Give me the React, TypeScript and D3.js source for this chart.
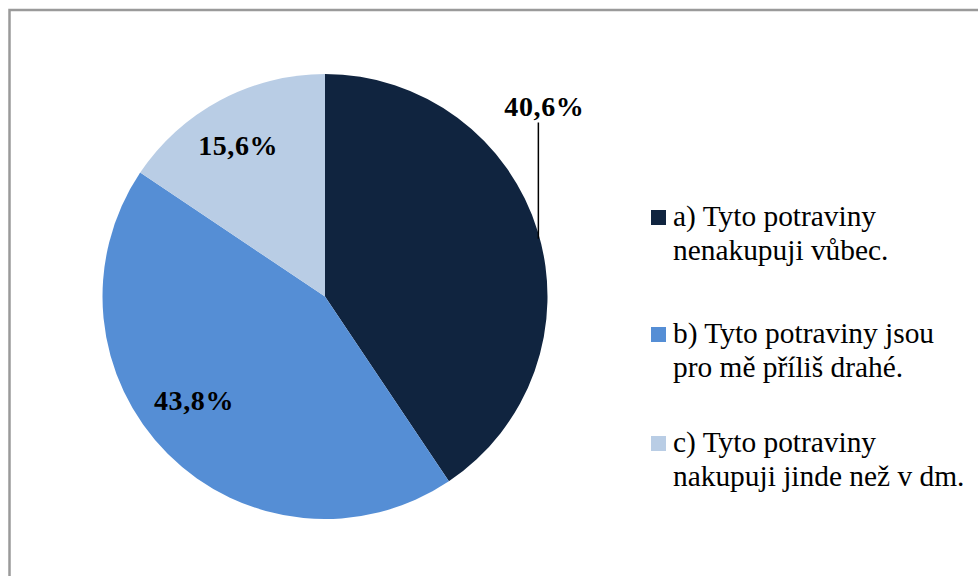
import React, { useEffect } from "react";
import * as d3 from "d3";

// survey answers (share of respondents)
const categories = [
  "a) Tyto potraviny|nenakupuji vůbec.",
  "b) Tyto potraviny jsou|pro mě příliš drahé.",
  "c) Tyto potraviny|nakupuji jinde než v dm.",
];
const values = [40.6, 43.8, 15.6];
const labels = ["40,6%", "43,8%", "15,6%"];
const colors = ["#10243f", "#558ed5", "#b9cde5"];

const width = 978;
const height = 576;
const cx = 325;
const cy = 296.5;
const radius = 222.5;
const serif = "'Times New Roman', Times, 'Liberation Serif', 'DejaVu Serif', serif";
// legend entry baselines as laid out in the original
const legendBaselines = [226, 343, 452];

const App = () => {
  useEffect(() => {
    document.body.style.margin = "0";
  }, []);

  const pie = d3
    .pie<number>()
    .sort(null)
    .value((d) => d);
  const arcs = pie(values);
  const arc = d3.arc<d3.PieArcDatum<number>>().innerRadius(0).outerRadius(radius);
  const labelArc = d3
    .arc<d3.PieArcDatum<number>>()
    .innerRadius(radius * 0.82)
    .outerRadius(radius * 0.82);

  // first label sits outside with a leader line, the others inside
  const outer = (a: d3.PieArcDatum<number>) => {
    const mid = (a.startAngle + a.endAngle) / 2;
    return [Math.sin(mid) * radius, -Math.cos(mid) * radius];
  };
  const nudges = [
    [0, 0],
    [-2, -25],
    [-1, 10],
  ];
  const labelStyle = { fontFamily: serif, fontWeight: 700, fontSize: 28, letterSpacing: 0.6 };

  return (
    <svg width={width} height={height} style={{ display: "block" }}>
      <rect x={9.5} y={10} width={1200} height={1200} fill="white" stroke="#9a9a9a" strokeWidth={2.5} />
      <g transform={`translate(${cx},${cy})`}>
        {arcs.map((a, i) => (
          <path key={i} d={arc(a) || ""} fill={colors[i]} />
        ))}
        {arcs.map((a, i) => {
          if (i === 0) {
            const [px, py] = outer(a);
            const lx = px + 0.5;
            return (
              <g key={i}>
                <line x1={lx} x2={lx} y1={py + 7} y2={-174} stroke="black" strokeWidth={1.5} />
                <text x={lx + 6} y={-181} textAnchor="middle" style={labelStyle}>
                  {labels[i]}
                </text>
              </g>
            );
          }
          const [x, y] = labelArc.centroid(a);
          return (
            <text
              key={i}
              x={x + nudges[i][0]}
              y={y + nudges[i][1] + 9}
              textAnchor="middle"
              style={labelStyle}
            >
              {labels[i]}
            </text>
          );
        })}
      </g>
      <g>
        {categories.map((c, i) => {
          const y = legendBaselines[i];
          const lines = c.split("|");
          return (
            <g key={i}>
              <rect x={651} y={y - 16} width={15} height={15} fill={colors[i]} />
              {lines.map((l, j) => (
                <text
                  key={j}
                  transform={`translate(673,${y + j * 34}) scale(0.98,1)`}
                  style={{ fontFamily: serif, fontSize: 30 }}
                >
                  {l}
                </text>
              ))}
            </g>
          );
        })}
      </g>
    </svg>
  );
};

export default App;
